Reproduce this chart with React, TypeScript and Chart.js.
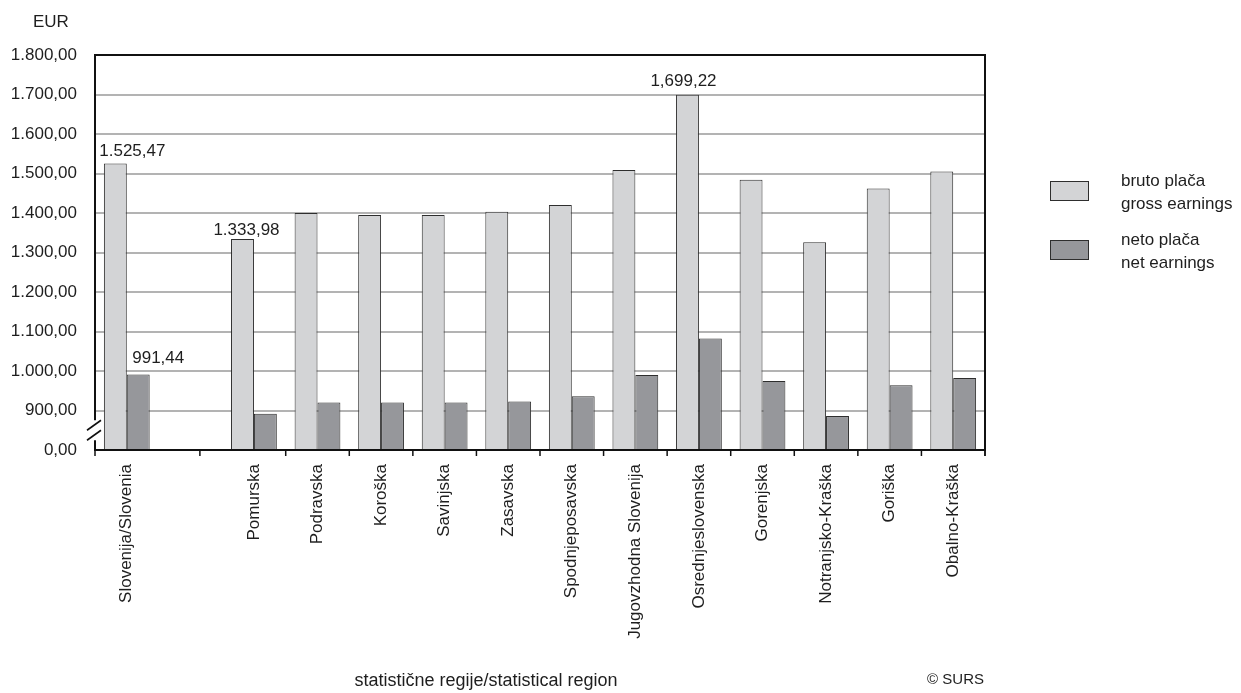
import React, { useEffect, useRef } from 'react';
import { Chart, registerables } from 'chart.js';

Chart.register(...registerables);

const categories = [
  'Slovenija/Slovenia',
  '',
  'Pomurska',
  'Podravska',
  'Koroška',
  'Savinjska',
  'Zasavska',
  'Spodnjeposavska',
  'Jugovzhodna Slovenija',
  'Osrednjeslovenska',
  'Gorenjska',
  'Notranjsko-Kraška',
  'Goriška',
  'Obalno-Kraška',
];

const grossEarnings = [1525.47, null, 1333.98, 1400, 1395, 1395, 1403, 1420, 1509, 1699.22, 1484, 1326, 1462, 1505];
const netEarnings = [991.44, null, 892, 920, 920, 920, 923, 936, 990, 1082, 975, 886, 964, 982];

const grossLabels = ['1.525,47', '', '1.333,98', '', '', '', '', '', '', '1,699,22', '', '', '', ''];
const netLabels = ['991,44', '', '', '', '', '', '', '', '', '', '', '', '', ''];

const seriesNames = [
  ['bruto plača', 'gross earnings'],
  ['neto plača', 'net earnings'],
];

const yAxisTitle = 'EUR';
const xAxisTitle = 'statistične regije/statistical region';
const sourceNote = '© SURS';

// axis break: values above the break are shown shifted down by this amount
const BREAK_SHIFT = 800;
const Y_MAX_VALUE = 1800;
const Y_STEP = 100;

const GROSS_FILL = '#d3d4d6';
const NET_FILL = '#96979b';
const BAR_BORDER = '#2e2e2e';
const TEXT = '#1e1e1e';
const FONT = '"Liberation Sans", Arial, sans-serif';

// style: nudges for the hand-placed value labels [dx, gap above bar]
const grossLabelNudge: Record<number, [number, number]> = { 0: [17, 7], 2: [4, 4], 9: [-4, 9] };
const netLabelNudge: Record<number, [number, number]> = { 0: [20, 11] };

const toScale = (v: number | null) => (v == null ? null : v - BREAK_SHIFT);

function fmt(n: number) {
  const [i, d] = n.toFixed(2).split('.');
  return i.replace(/\B(?=(\d{3})+(?!\d))/g, '.') + ',' + d;
}

export default function App() {
  const ref = useRef<HTMLCanvasElement | null>(null);

  useEffect(() => {
    const canvas = ref.current;
    if (!canvas) return;

    const decor = {
      id: 'decor',
      afterDraw(chart: any) {
        const { ctx, chartArea } = chart;
        const { left, right, top, bottom } = chartArea;
        const xs = chart.scales.x;
        const ys = chart.scales.y;
        ctx.save();

        // plot border
        ctx.strokeStyle = '#111';
        ctx.lineWidth = 2;
        ctx.strokeRect(left, top, right - left, bottom - top);

        // axis break
        const yb = ys.getPixelForValue(Y_STEP * 0.5);
        ctx.fillStyle = '#fff';
        ctx.fillRect(left - 3, yb - 10, 5, 20);
        ctx.strokeStyle = '#111';
        ctx.lineWidth = 1.6;
        for (const off of [-5, 5]) {
          ctx.beginPath();
          ctx.moveTo(left - 8, yb + off + 5);
          ctx.lineTo(left + 6, yb + off - 5);
          ctx.stroke();
        }

        // x tick marks
        const n = categories.length;
        const cw = (right - left) / n;
        const tickXs: number[] = [left, right];
        for (let i = 2; i < n; i++) {
          tickXs.push(xs.getPixelForValue(i) + cw / 2);
        }
        tickXs.push(xs.getPixelForValue(1) + cw * 0.15);
        ctx.lineWidth = 1.5;
        for (const tx of tickXs) {
          ctx.beginPath();
          ctx.moveTo(tx, bottom);
          ctx.lineTo(tx, bottom + 6);
          ctx.stroke();
        }

        // value labels
        ctx.fillStyle = TEXT;
        ctx.font = `17px ${FONT}`;
        ctx.textAlign = 'center';
        ctx.textBaseline = 'alphabetic';
        const drawLabels = (dsIndex: number, labels: string[], nudge: Record<number, [number, number]>) => {
          const meta = chart.getDatasetMeta(dsIndex);
          labels.forEach((lab, i) => {
            if (!lab) return;
            const el = meta.data[i];
            const [dx, gap] = nudge[i] || [0, 6];
            ctx.fillText(lab, el.x + dx, el.y - gap);
          });
        };
        drawLabels(0, grossLabels, grossLabelNudge);
        drawLabels(1, netLabels, netLabelNudge);

        // legend
        const fills = [GROSS_FILL, NET_FILL];
        seriesNames.forEach((lines, k) => {
          const by = 181 + k * 59;
          ctx.fillStyle = fills[k];
          ctx.fillRect(1050, by, 38, 19);
          ctx.strokeStyle = BAR_BORDER;
          ctx.lineWidth = 1;
          ctx.strokeRect(1050.5, by + 0.5, 38, 19);
          ctx.fillStyle = TEXT;
          ctx.textAlign = 'left';
          ctx.font = `17px ${FONT}`;
          lines.forEach((t, j) => {
            ctx.fillText(t, 1121, by + 5 + j * 23);
          });
        });

        // titles
        ctx.fillStyle = TEXT;
        ctx.font = `17px ${FONT}`;
        ctx.textAlign = 'left';
        ctx.fillText(yAxisTitle, 33, 27);
        ctx.font = `18px ${FONT}`;
        ctx.textAlign = 'center';
        ctx.fillText(xAxisTitle, 486, 686);
        ctx.font = `15px ${FONT}`;
        ctx.textAlign = 'right';
        ctx.fillText(sourceNote, 984, 684);

        ctx.restore();
      },
    };

    const chart = new Chart(canvas, {
      type: 'bar',
      data: {
        labels: categories,
        datasets: [
          {
            label: seriesNames[0].join(' '),
            data: grossEarnings.map(toScale),
            backgroundColor: GROSS_FILL,
            borderColor: BAR_BORDER,
            borderWidth: 1,
            categoryPercentage: 0.72,
            barPercentage: 1,
          },
          {
            label: seriesNames[1].join(' '),
            data: netEarnings.map(toScale),
            backgroundColor: NET_FILL,
            borderColor: BAR_BORDER,
            borderWidth: 1,
            categoryPercentage: 0.72,
            barPercentage: 1,
          },
        ],
      },
      options: {
        responsive: false,
        animation: false,
        devicePixelRatio: 1,
        layout: { padding: { left: 0, top: 55, right: 256, bottom: 0 } },
        plugins: {
          legend: { display: false },
          tooltip: { enabled: false },
        },
        scales: {
          x: {
            grid: { display: false },
            border: { display: false },
            ticks: {
              autoSkip: false,
              maxRotation: 90,
              minRotation: 90,
              padding: 6,
              color: TEXT,
              font: { family: FONT, size: 17 },
            },
            afterFit: (s: any) => {
              s.height = 243;
            },
          },
          y: {
            min: 0,
            max: Y_MAX_VALUE - BREAK_SHIFT,
            border: { display: false },
            grid: {
              drawTicks: false,
              lineWidth: 2,
              color: (c: any) =>
                c.tick && (c.tick.value === 0 || c.tick.value === Y_MAX_VALUE - BREAK_SHIFT) ? 'rgba(0,0,0,0)' : '#b3b3b3',
            },
            ticks: {
              stepSize: Y_STEP,
              padding: 18,
              color: TEXT,
              font: { family: FONT, size: 17 },
              callback: (v: any) => (Number(v) === 0 ? '0,00' : fmt(Number(v) + BREAK_SHIFT)),
            },
            afterFit: (s: any) => {
              s.width = 95;
            },
          },
        },
      },
      plugins: [decor],
    });

    return () => chart.destroy();
  }, []);

  return (
    <div style={{ position: 'fixed', left: 0, top: 0, width: 1241, height: 693, background: '#fff' }}>
      <canvas ref={ref} width={1241} height={693} style={{ display: 'block' }} />
    </div>
  );
}
